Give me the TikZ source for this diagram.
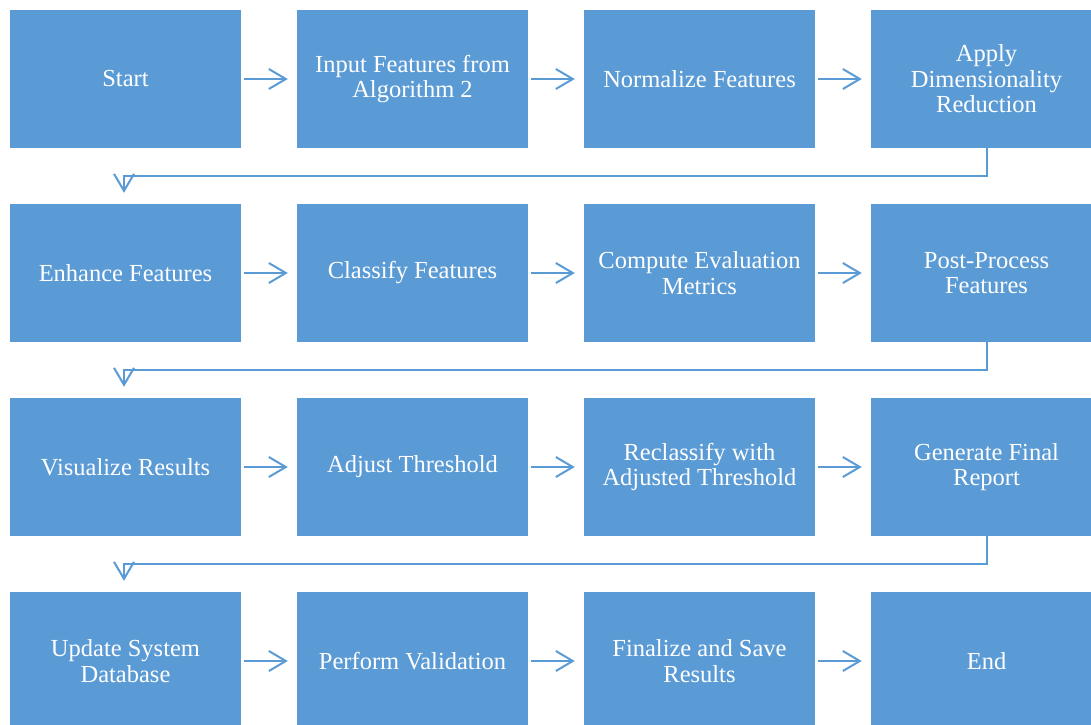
\documentclass[tikz,border=0pt]{standalone}
\usepackage{fontspec}
\setmainfont{Liberation Serif}
\usetikzlibrary{arrows.meta}
\definecolor{boxblue}{HTML}{5B9BD5}
\definecolor{lineblue}{HTML}{5B9BD5}
\tikzset{
  stepbox/.style={rectangle, fill=boxblue, draw=none, minimum width=231pt, minimum height=138pt,
    inner sep=0pt, align=center, text=white, font=\fontsize{24.5}{25.5}\selectfont},
  flow/.style={draw=lineblue, line width=2pt, -{Straight Barb[length=17pt,width=20pt]}},
  hflow/.style={flow, shorten <=3pt, shorten >=9pt},
  vflow/.style={flow, rounded corners=0pt, shorten >=11pt}
}
\begin{document}
\begin{tikzpicture}[x=1pt,y=1pt]
\useasboundingbox (0,0) rectangle (1091,-724);
\node[stepbox] (n1) at (125.5,-79) {Start};
\node[stepbox] (n2) at (412.5,-79) {Input Features from\\Algorithm 2};
\node[stepbox] (n3) at (699.5,-79) {Normalize Features};
\node[stepbox] (n4) at (986.5,-79) {Apply\\Dimensionality\\Reduction};
\node[stepbox] (n5) at (125.5,-273) {Enhance Features};
\node[stepbox] (n6) at (412.5,-273) {Classify Features};
\node[stepbox] (n7) at (699.5,-273) {Compute Evaluation\\Metrics};
\node[stepbox] (n8) at (986.5,-273) {Post-Process\\Features};
\node[stepbox] (n9) at (125.5,-467) {Visualize Results};
\node[stepbox] (n10) at (412.5,-467) {Adjust Threshold};
\node[stepbox] (n11) at (699.5,-467) {Reclassify with\\Adjusted Threshold};
\node[stepbox] (n12) at (986.5,-467) {Generate Final\\Report};
\node[stepbox] (n13) at (125.5,-661) {Update System\\Database};
\node[stepbox] (n14) at (412.5,-661) {Perform Validation};
\node[stepbox] (n15) at (699.5,-661) {Finalize and Save\\Results};
\node[stepbox] (n16) at (986.5,-661) {End};
\foreach \a/\b in {n1/n2,n2/n3,n3/n4,n5/n6,n6/n7,n7/n8,n9/n10,n10/n11,n11/n12,n13/n14,n14/n15,n15/n16}
  \draw[hflow] (\a.east) -- (\b.west);
\draw[vflow] (n4.south) -- ++(0,-28) -| ([xshift=-1.5pt]n5.north);
\draw[vflow] (n8.south) -- ++(0,-28) -| ([xshift=-1.5pt]n9.north);
\draw[vflow] (n12.south) -- ++(0,-28) -| ([xshift=-1.5pt]n13.north);
\end{tikzpicture}
\end{document}
